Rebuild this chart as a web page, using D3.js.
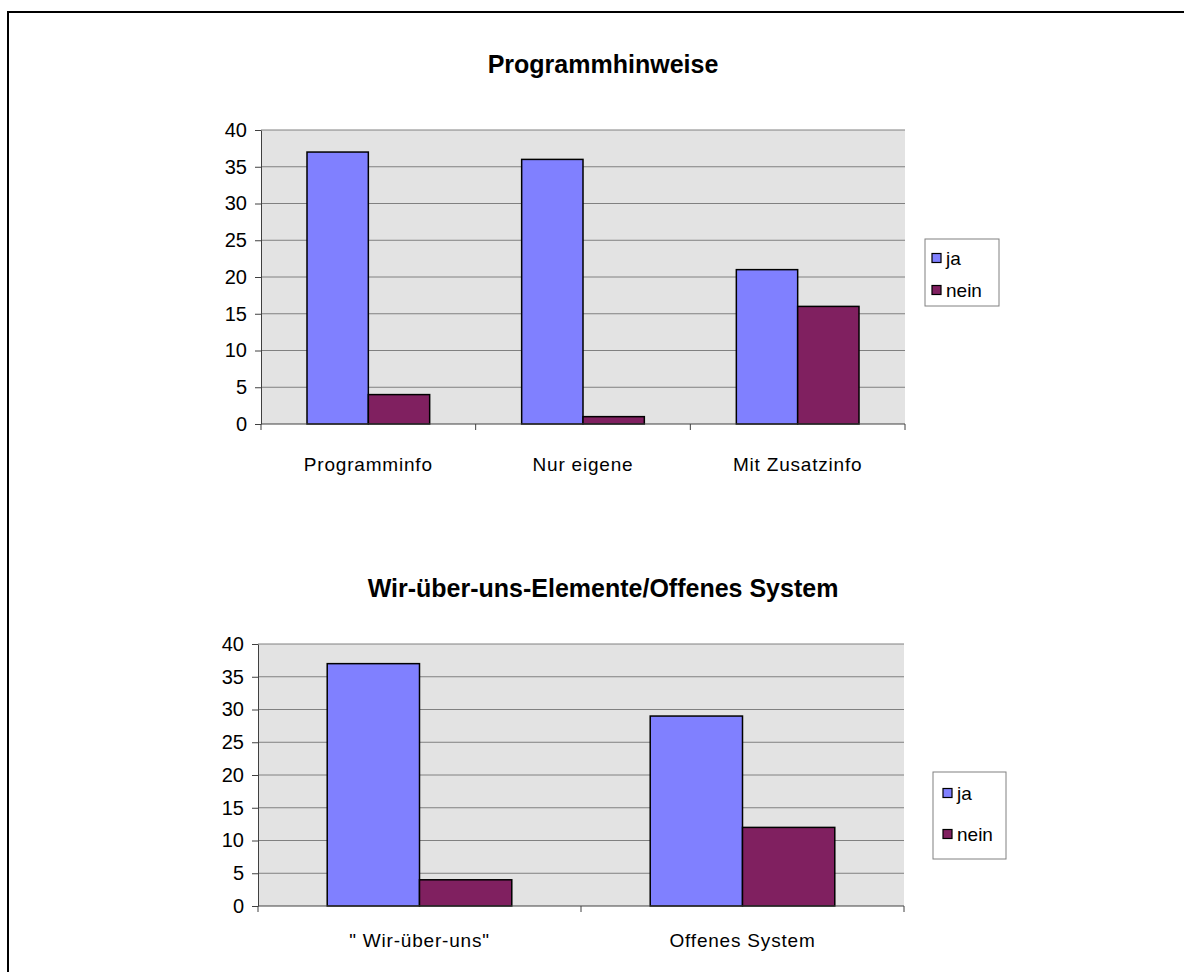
<!DOCTYPE html>
<html>
<head>
<meta charset="utf-8">
<script src="https://cdn.jsdelivr.net/npm/d3@7.9.0/dist/d3.min.js"></script>
<style>
  body { margin: 0; background: #fff; }
  svg { display: block; font-family: "Liberation Sans", Arial, sans-serif; }
</style>
</head>
<body>
<svg id="chart" width="1184" height="972"></svg>
<script>
const seriesNames = ['ja', 'nein'];
const seriesColors = ['#8080ff', '#802060'];
const yTicks = [0, 5, 10, 15, 20, 25, 30, 35, 40];

const title1 = 'Programmhinweise';
const categories1 = ['Programminfo', 'Nur eigene', 'Mit Zusatzinfo'];
const ja1 = [37, 36, 21];
const nein1 = [4, 1, 16];

const title2 = 'Wir-über-uns-Elemente/Offenes System';
const categories2 = ['" Wir-über-uns"', 'Offenes System'];
const ja2 = [37, 29];
const nein2 = [4, 12];

const svg = d3.select('#chart');

// outer frame (only top and left edges are in view)
svg.append('path')
    .attr('d', 'M1184,12H8V972')
    .attr('fill', 'none')
    .attr('stroke', '#000')
    .attr('stroke-width', 2);

function drawChart(opts) {
    const { title, categories, values, left, right, top, bottom, titleY, labelY, legend } = opts;
    const g = svg.append('g');

    const x = d3.scaleBand().domain(categories).range([left, right]);
    const xs = d3.scaleBand().domain(seriesNames).range([0, x.bandwidth()])
        .paddingOuter(0.75).paddingInner(0);
    const y = d3.scaleLinear().domain([0, 40]).range([bottom, top]);

    g.append('text')
        .attr('x', 603).attr('y', titleY)
        .attr('text-anchor', 'middle')
        .attr('font-size', 25).attr('font-weight', 'bold')
        .text(title);

    g.append('rect')
        .attr('x', left).attr('y', top)
        .attr('width', right - left).attr('height', bottom - top)
        .attr('fill', '#e3e3e3');

    g.selectAll('.grid').data(yTicks.filter((d) => d > 0)).join('line')
        .attr('x1', left).attr('x2', right)
        .attr('y1', (d) => y(d)).attr('y2', (d) => y(d))
        .attr('stroke', '#808080');

    const rows = categories.map((c, i) => seriesNames.map((s, j) => ({ c, s, v: values[j][i], j })));
    g.selectAll('.bar').data(rows.flat()).join('rect')
        .attr('x', (d) => x(d.c) + xs(d.s))
        .attr('y', (d) => y(d.v))
        .attr('width', xs.bandwidth())
        .attr('height', (d) => y(0) - y(d.v))
        .attr('fill', (d) => seriesColors[d.j])
        .attr('stroke', '#000')
        .attr('stroke-width', 1.5);

    const yAxis = g.append('g')
        .attr('transform', `translate(${left},0)`)
        .call(d3.axisLeft(y).tickValues(yTicks).tickSize(6).tickPadding(8).tickSizeOuter(0));
    yAxis.select('.domain').attr('stroke', '#404040');
    yAxis.selectAll('.tick line').attr('stroke', '#404040');
    yAxis.selectAll('.tick text').attr('font-size', 20).attr('fill', '#000')
        .attr('font-family', '"Liberation Sans", Arial, sans-serif');

    // category axis: baseline and ticks at band edges
    const edges = categories.map((c) => x(c)).concat([right]);
    g.append('line')
        .attr('x1', left).attr('x2', right)
        .attr('y1', bottom).attr('y2', bottom)
        .attr('stroke', '#404040');
    g.selectAll('.xtick').data(edges).join('line')
        .attr('x1', (d) => d).attr('x2', (d) => d)
        .attr('y1', bottom).attr('y2', bottom + 6)
        .attr('stroke', '#404040');
    g.selectAll('.xlabel').data(categories).join('text')
        .attr('x', (d) => x(d) + x.bandwidth() / 2)
        .attr('y', labelY)
        .attr('text-anchor', 'middle')
        .attr('font-size', 19)
        .attr('letter-spacing', 0.8)
        .text((d) => d);

    // legend
    const lg = g.append('g');
    lg.append('rect')
        .attr('x', legend.x).attr('y', legend.y)
        .attr('width', legend.w).attr('height', legend.h)
        .attr('fill', '#fff').attr('stroke', '#808080');
    seriesNames.forEach((s, j) => {
        const cy = legend.y + legend.rowY[j];
        lg.append('rect')
            .attr('x', legend.x + legend.sx).attr('y', cy - 4.5)
            .attr('width', 9).attr('height', 9)
            .attr('fill', seriesColors[j]).attr('stroke', '#000').attr('stroke-width', 1.2);
        lg.append('text')
            .attr('x', legend.x + legend.tx).attr('y', cy + 7)
            .attr('font-size', 19)
            .text(s);
    });
}

drawChart({
    title: title1, categories: categories1, values: [ja1, nein1],
    left: 261, right: 905, top: 130, bottom: 424,
    titleY: 73, labelY: 471,
    legend: { x: 925, y: 239, w: 74, h: 67, sx: 7, tx: 21, rowY: [19, 51] }
});

drawChart({
    title: title2, categories: categories2, values: [ja2, nein2],
    left: 258, right: 904, top: 644, bottom: 906,
    titleY: 597, labelY: 947,
    legend: { x: 933, y: 772, w: 73, h: 87, sx: 10, tx: 24, rowY: [21, 62] }
});
</script>
</body>
</html>
